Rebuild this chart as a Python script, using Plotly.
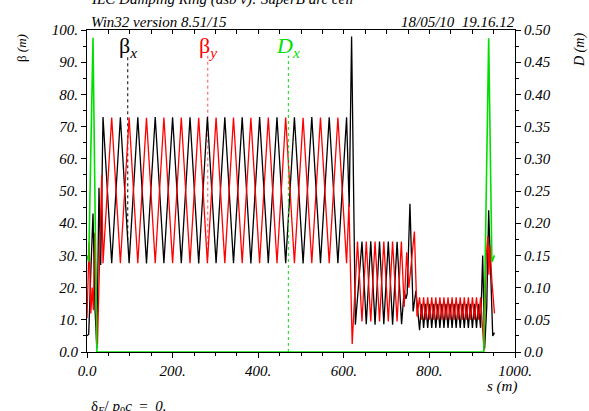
import numpy as np
import plotly.graph_objects as go

# ---------------- data ----------------
s_bx = [0, 4, 9, 14, 18.5, 23, 28, 32,
        37.4, 57.7, 78.0, 98.4, 118.7, 139.0, 159.4, 179.7, 200.0, 220.3,
        240.7, 261.0, 281.3, 301.6, 322.0, 342.3, 362.6, 382.9, 403.3, 423.6,
        443.9, 464.2, 484.6, 504.9, 525.2, 545.5, 565.9, 586.2, 606.5,
        612.6, 618.2, 627,
        642.5, 652.5, 663, 673, 683.5, 693.5, 704, 714, 724.5, 735,
        741, 745, 748, 754.5, 762, 768.5,
        777, 781.75, 786.5, 791.25, 796, 800.75, 805.5, 810.25, 815, 819.75,
        824.5, 829.25, 834, 838.75, 843.5, 848.25, 853, 857.75, 862.5, 867.25,
        872, 876.75, 881.5, 886.25, 891, 895.75, 900.5, 905.25, 910, 914.75, 919.5,
        924.5, 929, 934, 938.5, 943, 948, 952]
betx = [5.0, 5.5, 25, 43, 14, 1.0, 51, 27,
        73.0, 27.6, 72.9, 27.6, 72.9, 27.5, 73.0, 27.6, 72.9, 27.6,
        72.9, 27.5, 73.0, 27.6, 72.9, 27.6, 72.9, 27.5, 73.0, 27.6,
        72.9, 27.6, 72.9, 27.5, 73.0, 27.6, 72.9, 27.6, 72.9,
        45, 98, 8.5,
        34.3, 8.6, 34.4, 8.5, 34.3, 8.6, 34.3, 8.5, 34.2, 8.6,
        19, 16.5, 18, 46, 12.6, 19,
        6.8, 15, 7.5, 15, 7.5, 15, 7.5, 15, 7.5, 15,
        7.5, 15, 7.5, 15, 7.5, 15, 7.5, 15, 7.5, 15,
        7.5, 15, 7.5, 15, 7.5, 15, 7.5, 15, 7.5, 15, 7.5,
        30, 1.0, 14, 44, 25, 5.0, 6.0]

s_by = [0, 5, 9, 12, 15, 18, 24.5, 34.4,
        37.4, 57.7, 78.0, 98.4, 118.7, 139.0, 159.4, 179.7, 200.0, 220.3,
        240.7, 261.0, 281.3, 301.6, 322.0, 342.3, 362.6, 382.9, 403.3, 423.6,
        443.9, 464.2, 484.6, 504.9, 525.2, 545.5, 565.9, 586.2, 606.5,
        612.0, 619.6,
        632, 642.5, 652.5, 663, 673, 683.5, 693.5, 704, 714, 724.5, 734.5,
        741, 747, 752, 765, 771,
        777, 781.75, 786.5, 791.25, 796, 800.75, 805.5, 810.25, 815, 819.75,
        824.5, 829.25, 834, 838.75, 843.5, 848.25, 853, 857.75, 862.5, 867.25,
        872, 876.75, 881.5, 886.25, 891, 895.75, 900.5, 905.25, 910, 914.75, 919.5,
        927.6, 933, 936.5, 939, 941.5, 946, 952]
bety = [10.5, 34, 12, 20, 13, 37, 2.5, 55,
        27.6, 72.8, 27.6, 72.8, 27.6, 72.7, 27.6, 72.8, 27.6, 72.8,
        27.6, 72.7, 27.6, 72.8, 27.6, 72.8, 27.6, 72.7, 27.6, 72.8,
        27.6, 72.8, 27.6, 72.7, 27.6, 72.8, 27.6, 72.8, 27.6,
        46, 2.5,
        34.3, 9.5, 34.3, 9.5, 34.3, 9.5, 34.3, 9.5, 34.3, 9.5, 34.3,
        14, 31, 20, 37.4, 11,
        17, 10, 17, 10, 17, 10, 17, 10, 17, 10,
        17, 10, 17, 10, 17, 10, 17, 10, 17, 10,
        17, 10, 17, 10, 17, 10, 17, 10, 17, 10, 17,
        0.5, 30, 36, 24, 33, 22, 12]

s_dx = [0, 4, 14, 23, 927, 938.5, 946, 952]
dx = [0.15, 0.14, 0.488, 0.0, 0.0, 0.487, 0.14, 0.15]

x_tickvals = [0, 200, 400, 600, 800, 1000]
x_ticktext = ["0.0", "200.", "400.", "600.", "800.", "1000."]
y_tickvals = [0, 10, 20, 30, 40, 50, 60, 70, 80, 90, 100]
y_ticktext = ["0.0", "10.", "20.", "30.", "40.", "50.", "60.", "70.", "80.", "90.", "100."]
y2_tickvals = [0, 0.05, 0.10, 0.15, 0.20, 0.25, 0.30, 0.35, 0.40, 0.45, 0.50]
y2_ticktext = ["0.0", "0.05", "0.10", "0.15", "0.20", "0.25", "0.30", "0.35", "0.40", "0.45", "0.50"]
top_tickvals = list(range(0, 1001, 50))

label_s = [95.2, 282.2, 470.4]          # where the curve labels sit
label_top = 92.0                        # top of the dotted pointer lines (beta units)
label_y = 94.8

SERIF = "Liberation Serif"
BLACK, RED, GREEN = "#000000", "#ff0000", "#00e000"

fig = go.Figure()

# pointer (dotted) lines from labels to the curves
fig.add_trace(go.Scatter(x=[label_s[0], label_s[0]],
                         y=[float(np.interp(label_s[0], s_bx, betx)), label_top],
                         mode="lines", line=dict(color=BLACK, width=1, dash="dot"),
                         hoverinfo="skip", showlegend=False))
fig.add_trace(go.Scatter(x=[label_s[1], label_s[1]],
                         y=[float(np.interp(label_s[1], s_by, bety)), label_top],
                         mode="lines", line=dict(color="#ff5050", width=1, dash="dot"),
                         hoverinfo="skip", showlegend=False))
fig.add_trace(go.Scatter(x=[label_s[2], label_s[2]],
                         y=[float(np.interp(label_s[2], s_dx, dx)), label_top / 200.0],
                         mode="lines", line=dict(color=GREEN, width=1, dash="dot"),
                         yaxis="y2", hoverinfo="skip", showlegend=False))

fig.add_trace(go.Scatter(x=s_bx, y=betx, mode="lines",
                         line=dict(color=BLACK, width=1.3), showlegend=False))
fig.add_trace(go.Scatter(x=s_by, y=bety, mode="lines",
                         line=dict(color=RED, width=1.3), showlegend=False))
fig.add_trace(go.Scatter(x=s_dx, y=dx, mode="lines", yaxis="y2",
                         line=dict(color=GREEN, width=1.6), showlegend=False))
# dummy trace so the top tick axis is drawn
fig.add_trace(go.Scatter(x=[0], y=[0], xaxis="x2", mode="markers",
                         marker=dict(opacity=0), hoverinfo="skip", showlegend=False))

tickfont = dict(family=SERIF, size=15, color="black", style="italic")

fig.update_layout(
    width=589, height=411,
    margin=dict(l=87, r=74, t=30, b=59),
    paper_bgcolor="white", plot_bgcolor="white",
    showlegend=False,
    xaxis=dict(range=[0, 1000], tickmode="array", tickvals=x_tickvals, ticktext=x_ticktext,
               ticks="outside", ticklen=5, tickcolor="black", tickwidth=1,
               minor=dict(tickmode="linear", tick0=0, dtick=50, ticks="outside",
                          ticklen=3, tickcolor="black"),
               showline=True, linecolor="black", linewidth=1, mirror=True,
               showgrid=False, zeroline=False, tickfont=tickfont, layer="below traces"),
    xaxis2=dict(range=[0, 1000], overlaying="x", side="top", anchor="y",
                tickmode="array", tickvals=top_tickvals, ticks="inside", ticklen=4,
                tickcolor="black", showticklabels=False, showline=False,
                showgrid=False, zeroline=False),
    yaxis=dict(range=[0, 100], tickmode="array", tickvals=y_tickvals, ticktext=y_ticktext,
               ticks="outside", ticklen=5, tickcolor="black",
               minor=dict(tickmode="linear", tick0=0, dtick=5, ticks="outside",
                          ticklen=3, tickcolor="black"),
               showline=True, linecolor="black", linewidth=1,
               showgrid=False, zeroline=False, tickfont=tickfont, layer="below traces"),
    yaxis2=dict(range=[0, 0.5], overlaying="y", side="right", anchor="x",
                tickmode="array", tickvals=y2_tickvals, ticktext=y2_ticktext,
                ticks="outside", ticklen=5, tickcolor="black",
                minor=dict(tickmode="linear", tick0=0, dtick=0.025, ticks="outside",
                           ticklen=3, tickcolor="black"),
                showline=True, linecolor="black", linewidth=1,
                showgrid=False, zeroline=False, tickfont=tickfont, layer="below traces"),
)

def px_x(p):
    return (p - 87) / 428.0

def px_y(p):
    return (352 - p) / 322.0

ann = []
ann.append(dict(text="ILC Damping Ring (dsb v): SuperB arc cell", x=px_x(88.5), y=px_y(-0.5),
                xref="paper", yref="paper", xanchor="left", yanchor="middle", showarrow=False,
                font=dict(family=SERIF, size=15, color="black", style="italic")))
ann.append(dict(text="Win32 version 8.51/15", x=px_x(88.5), y=px_y(22.5),
                xref="paper", yref="paper", xanchor="left", yanchor="middle", showarrow=False,
                font=dict(family=SERIF, size=15, color="black", style="italic")))
ann.append(dict(text="18/05/10&nbsp;&nbsp;19.16.12", x=px_x(517), y=px_y(22.5),
                xref="paper", yref="paper", xanchor="right", yanchor="middle", showarrow=False,
                font=dict(family=SERIF, size=15, color="black", style="italic")))
ann.append(dict(text="β <i>(m)</i>", x=px_x(21), y=px_y(48), textangle=-90,
                xref="paper", yref="paper", xanchor="center", yanchor="middle", showarrow=False,
                font=dict(family=SERIF, size=13, color="black")))
ann.append(dict(text="<i>D (m)</i>", x=px_x(580), y=px_y(50), textangle=-90,
                xref="paper", yref="paper", xanchor="center", yanchor="middle", showarrow=False,
                font=dict(family=SERIF, size=14, color="black")))
ann.append(dict(text="<i>s (m)</i>", x=px_x(502), y=px_y(386.5),
                xref="paper", yref="paper", xanchor="center", yanchor="middle", showarrow=False,
                font=dict(family=SERIF, size=15, color="black")))
ann.append(dict(text="δ<sub><i>E</i></sub>/ <i>p</i><sub>0</sub><i>c</i>&nbsp;&nbsp;=&nbsp;&nbsp;<i>0.</i>",
                x=px_x(88.5), y=px_y(407.5),
                xref="paper", yref="paper", xanchor="left", yanchor="middle", showarrow=False,
                font=dict(family=SERIF, size=15, color="black")))
# curve labels
ann.append(dict(text="β<sub><i>x</i></sub>", x=label_s[0], y=label_y, xref="x", yref="y",
                xanchor="center", yanchor="middle", showarrow=False,
                font=dict(family=SERIF, size=22, color=BLACK)))
ann.append(dict(text="β<sub><i>y</i></sub>", x=label_s[1], y=label_y, xref="x", yref="y",
                xanchor="center", yanchor="middle", showarrow=False,
                font=dict(family=SERIF, size=22, color=RED)))
ann.append(dict(text="<i>D</i><sub><i>x</i></sub>", x=label_s[2], y=label_y, xref="x", yref="y",
                xanchor="center", yanchor="middle", showarrow=False,
                font=dict(family=SERIF, size=22, color=GREEN)))
fig.update_layout(annotations=ann)

fig.write_html("out.html")
